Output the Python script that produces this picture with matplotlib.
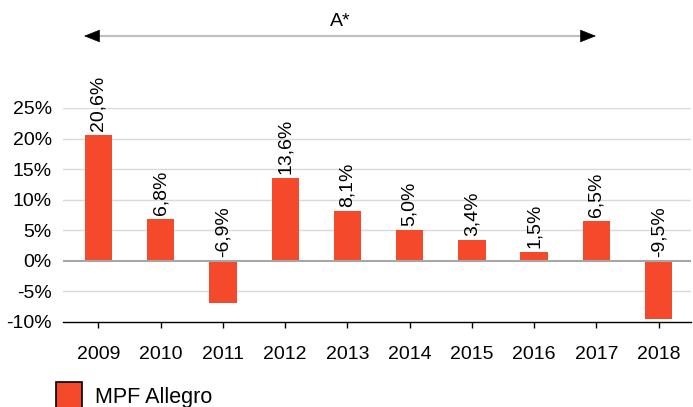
import matplotlib
matplotlib.use("Agg")
import matplotlib.pyplot as plt
from matplotlib.patches import Rectangle

plt.rcParams['font.family'] = ['Liberation Sans', 'DejaVu Sans']

years = ["2009", "2010", "2011", "2012", "2013", "2014", "2015", "2016", "2017", "2018"]
values = [20.6, 6.8, -6.9, 13.6, 8.1, 5.0, 3.4, 1.5, 6.5, -9.5]
labels = ["20,6%", "6,8%", "-6,9%", "13,6%", "8,1%", "5,0%", "3,4%", "1,5%", "6,5%", "-9,5%"]
yticks = [-10, -5, 0, 5, 10, 15, 20, 25]
ytick_labels = ["-10%", "-5%", "0%", "5%", "10%", "15%", "20%", "25%"]
series_name = "MPF Allegro"
span_label = "A*"

color = "#F4492B"
FS = 14
W, H = 693, 407
fig = plt.figure(figsize=(W / 100, H / 100), dpi=100)
ax = fig.add_axes([63 / W, 85 / H, (691 - 63) / W, (322 - 108) / H])

x = list(range(len(years)))
ax.bar(x, values, width=0.44, color=color, zorder=3)

ax.set_ylim(-10, 25)
ax.set_xlim(-0.57, 9.52)
ax.set_yticks(yticks)
ax.set_yticklabels(ytick_labels, fontsize=FS)
ax.set_xticks(x)
ax.set_xticklabels(years, fontsize=FS)
ax.tick_params(axis='y', length=0, pad=8)
ax.tick_params(axis='x', length=4, width=1, color='black', pad=13)

for t in yticks:
    if t == 0:
        ax.axhline(t, color='#a6a6a6', lw=1.5, zorder=4)
    elif t != -10:
        ax.axhline(t, color='#d9d9d9', lw=1, zorder=1)

for s in ['top', 'right', 'left']:
    ax.spines[s].set_visible(False)
ax.spines['bottom'].set_color('black')
ax.spines['bottom'].set_linewidth(1)

for xi, v, lab in zip(x, values, labels):
    base = max(v, 0)
    ax.annotate(lab, (xi, base), xytext=(0, 3), textcoords='offset points',
                rotation=90, ha='center', va='bottom', fontsize=FS, clip_on=False)

# span arrow
fig_ax = fig.add_axes([0, 0, 1, 1], facecolor='none')
fig_ax.set_xlim(0, W)
fig_ax.set_ylim(H, 0)
fig_ax.axis('off')
fig_ax.plot([94, 586], [36, 36], color='#c0c0c0', lw=1.6)
for tip, tail in [((84, 36), (98, 36)), ((596, 36), (582, 36))]:
    fig_ax.annotate('', xy=tip, xytext=tail,
                    arrowprops=dict(arrowstyle='-|>,head_length=0.8,head_width=0.32', color='black', lw=0.5,
                                    mutation_scale=13, shrinkA=0, shrinkB=0))
fig_ax.text(340, 22, span_label, ha='center', va='center', fontsize=FS)

# legend
fig_ax.add_patch(Rectangle((56, 382), 26, 30, facecolor=color, edgecolor='black', lw=1.2))
fig_ax.text(95, 397, series_name, ha='left', va='center', fontsize=15.5)

fig.savefig("out.png", dpi=100)
